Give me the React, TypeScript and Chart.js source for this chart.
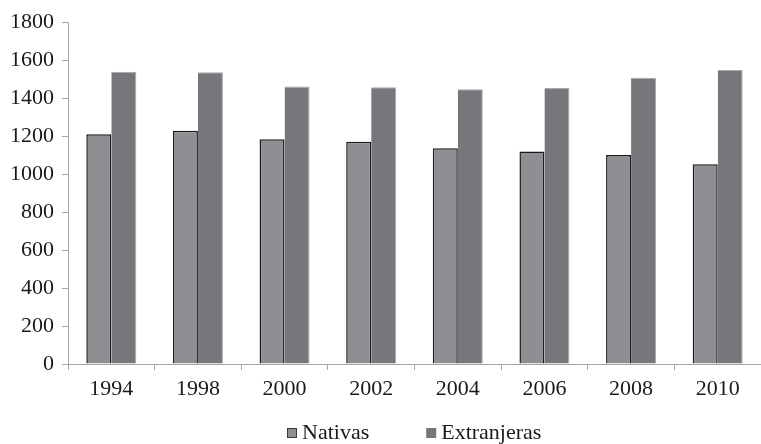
import React, { useEffect, useRef } from "react";
import { Chart, registerables } from "chart.js";

Chart.register(...registerables);

const categories = ["1994", "1998", "2000", "2002", "2004", "2006", "2008", "2010"];
const nativas = [1209, 1228, 1183, 1170, 1135, 1118, 1100, 1051];
const extranjeras = [1538, 1535, 1460, 1456, 1446, 1453, 1507, 1547];
const seriesNames = ["Nativas", "Extranjeras"];

const FONT = "'Liberation Serif', 'Times New Roman', serif";
const AXIS = "#a6a6a6";
const TEXT = "#1a1a1a";

const legendPlugin = {
  id: "customLegend",
  afterDraw(chart: any) {
    const ctx = chart.ctx;
    const area = chart.chartArea;
    ctx.save();
    ctx.font = `22px ${FONT}`;
    ctx.textBaseline = "alphabetic";
    ctx.textAlign = "left";
    const box = 10;
    const gapText = 5;
    const gapItem = 57;
    const items = chart.data.datasets.map((d: any) => ({
      label: d.label,
      fill: d.backgroundColor,
      stroke: d.legendStroke,
      w: box + gapText + ctx.measureText(d.label).width,
    }));
    const total = items.reduce((a: number, it: any) => a + it.w, 0) + gapItem * (items.length - 1);
    let x = Math.round((area.left + area.right) / 2 - total / 2);
    const baseline = 439;
    items.forEach((it: any) => {
      ctx.fillStyle = it.fill;
      ctx.fillRect(x, baseline - 11, box, box);
      if (it.stroke) {
        ctx.strokeStyle = it.stroke;
        ctx.lineWidth = 1;
        ctx.strokeRect(x + 0.5, baseline - 10.5, box - 1, box - 1);
      }
      ctx.fillStyle = TEXT;
      ctx.fillText(it.label, x + box + gapText, baseline);
      x += it.w + gapItem;
    });
    ctx.restore();
  },
};

export default function App() {
  const ref = useRef<HTMLCanvasElement | null>(null);
  useEffect(() => {
    if (!ref.current) return;
    const chart = new Chart(ref.current, {
      type: "bar",
      data: {
        labels: categories,
        datasets: [
          {
            label: seriesNames[0],
            data: nativas,
            backgroundColor: "#8e8f93",
            borderColor: "#1a1a1a",
            borderWidth: 1.5,
            borderSkipped: "bottom",
            categoryPercentage: 0.577,
            barPercentage: 1,
            legendStroke: "#3a3a3a",
          } as any,
          {
            label: seriesNames[1],
            data: extranjeras,
            backgroundColor: "#76777b",
            borderColor: "#a9a9ab",
            borderWidth: { top: 1, right: 1, left: 0, bottom: 0 },
            borderSkipped: "bottom",
            categoryPercentage: 0.577,
            barPercentage: 1,
          } as any,
        ],
      },
      options: {
        animation: false,
        responsive: true,
        maintainAspectRatio: false,
        layout: { padding: { top: 22, right: 0, left: 0, bottom: 40 } },
        plugins: {
          legend: { display: false },
          tooltip: { enabled: false },
        },
        scales: {
          x: {
            grid: {
              drawOnChartArea: false,
              drawTicks: true,
              tickLength: 6,
              color: AXIS,
              offset: true,
            },
            border: { display: true, color: AXIS, width: 1 },
            ticks: {
              color: TEXT,
              font: { family: FONT, size: 22 },
              padding: 6,
            },
            afterFit: (s: any) => {
              s.height = 40;
            },
          },
          y: {
            min: 0,
            max: 1800,
            grid: {
              drawOnChartArea: false,
              drawTicks: true,
              tickLength: 6,
              color: AXIS,
            },
            border: { display: true, color: AXIS, width: 1 },
            ticks: {
              stepSize: 200,
              color: TEXT,
              font: { family: FONT, size: 22 },
              padding: 8,
              callback: (v: any) => String(v),
            },
            afterFit: (s: any) => {
              s.width = 68;
            },
          },
        },
      },
      plugins: [legendPlugin],
    });
    return () => chart.destroy();
  }, []);
  return (
    <div style={{ position: "fixed", left: 0, top: 0, width: 761, height: 444, background: "#fff" }}>
      <canvas ref={ref} />
    </div>
  );
}
